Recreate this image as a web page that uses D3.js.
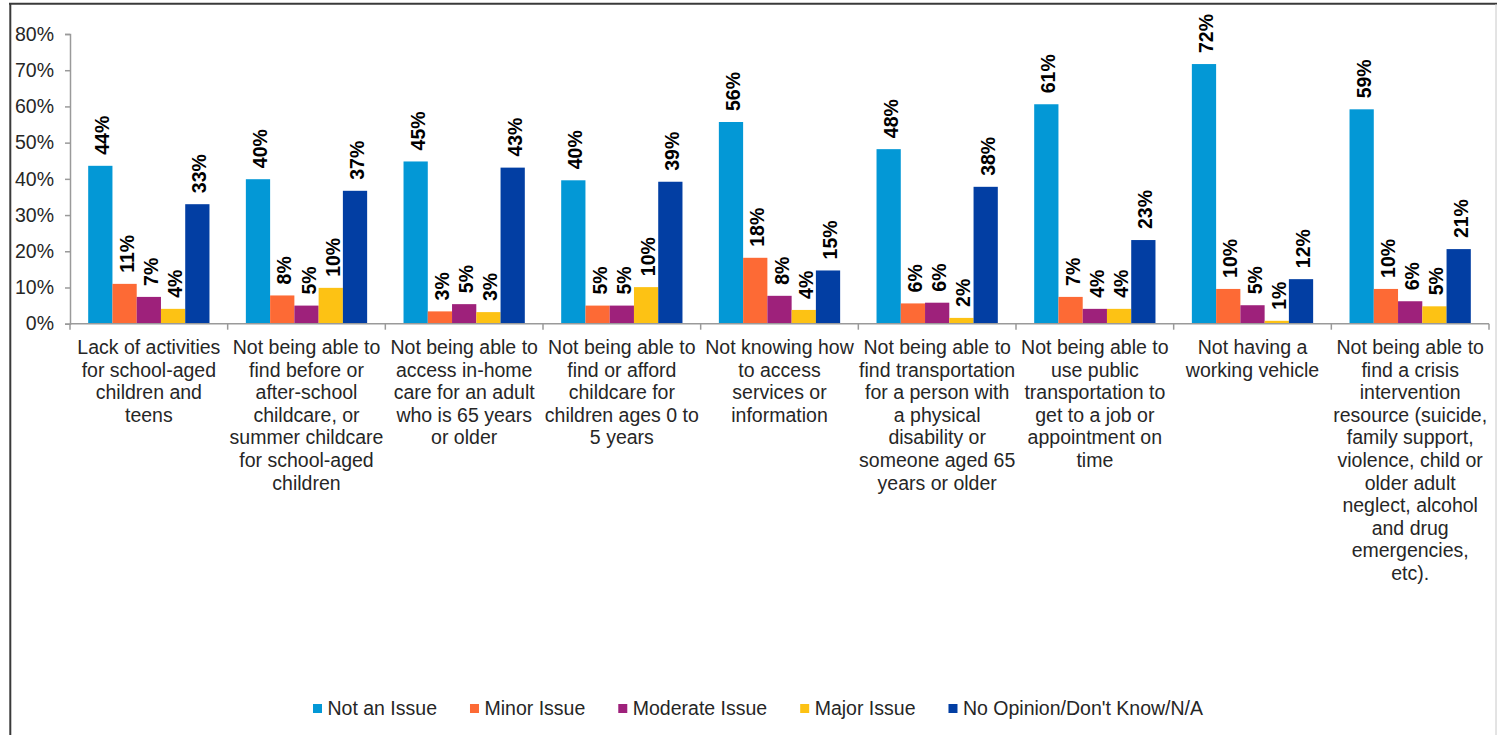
<!DOCTYPE html>
<html>
<head>
<meta charset="utf-8">
<script src="https://cdn.jsdelivr.net/npm/d3@7"></script>
<style>
  html, body { margin: 0; padding: 0; background: #fff; }
  svg { display: block; font-family: Arial, "Liberation Sans", sans-serif; }
</style>
</head>
<body>
<svg id="chart" width="1497" height="735"></svg>
<script>
// Survey categories (line breaks mark how each axis label wraps)
const categories = [
  "Lack of activities\nfor school-aged\nchildren and\nteens",
  "Not being able to\nfind before or\nafter-school\nchildcare, or\nsummer childcare\nfor school-aged\nchildren",
  "Not being able to\naccess in-home\ncare for an adult\nwho is 65 years\nor older",
  "Not being able to\nfind or afford\nchildcare for\nchildren ages 0 to\n5 years",
  "Not knowing how\nto access\nservices or\ninformation",
  "Not being able to\nfind transportation\nfor a person with\na physical\ndisability or\nsomeone aged 65\nyears or older",
  "Not being able to\nuse public\ntransportation to\nget to a job or\nappointment on\ntime",
  "Not having a\nworking vehicle",
  "Not being able to\nfind a crisis\nintervention\nresource (suicide,\nfamily support,\nviolence, child or\nolder adult\nneglect, alcohol\nand drug\nemergencies,\netc)."
];

const seriesNames = ["Not an Issue", "Minor Issue", "Moderate Issue", "Major Issue", "No Opinion/Don't Know/N/A"];
const seriesColors = ["#0398d6", "#fd6a35", "#9e217b", "#fdc214", "#023ea3"];

// Percent of respondents, one array per response
const notAnIssue = [43.6, 39.9, 44.8, 39.6, 55.7, 48.2, 60.6, 71.7, 59.2];
const minorIssue = [11.0, 7.8, 3.4, 5.0, 18.2, 5.6, 7.4, 9.6, 9.6];
const moderateIssue = [7.4, 5.0, 5.4, 5.0, 7.7, 5.8, 4.1, 5.1, 6.2];
const majorIssue = [4.1, 9.9, 3.2, 10.1, 3.8, 1.6, 4.1, 0.8, 4.8];
const noOpinion = [33.0, 36.7, 43.1, 39.2, 14.7, 37.8, 23.1, 12.3, 20.6];

const yTicks = [0, 10, 20, 30, 40, 50, 60, 70, 80];

const seriesValues = [notAnIssue, minorIssue, moderateIssue, majorIssue, noOpinion];

const svg = d3.select("#chart");

// Outer frame
svg.append("line").attr("x1", 9).attr("x2", 1497).attr("y1", 3.7).attr("y2", 3.7)
  .attr("stroke", "#3a3a3a").attr("stroke-width", 2);
svg.append("line").attr("x1", 10.3).attr("x2", 10.3).attr("y1", 3).attr("y2", 735)
  .attr("stroke", "#3a3a3a").attr("stroke-width", 2);
svg.append("line").attr("x1", 1496).attr("x2", 1496).attr("y1", 4).attr("y2", 735)
  .attr("stroke", "#c8c8c8").attr("stroke-width", 1);

const plot = { left: 70, right: 1489, top: 34, bottom: 323.7 };

const x = d3.scaleBand().domain(d3.range(categories.length))
  .range([plot.left, plot.right]).padding(0);
const xs = d3.scaleBand().domain(d3.range(seriesNames.length))
  .range([0, x.bandwidth()]).paddingInner(0).paddingOuter(0.75);
const y = d3.scaleLinear().domain([0, 80]).range([plot.bottom, plot.top]);

const fmt = v => d3.format(".0f")(v) + "%";

// Y axis
const yAxis = svg.append("g").attr("transform", `translate(${plot.left},0)`)
  .call(d3.axisLeft(y).tickValues(yTicks).tickFormat(d => d + "%").tickSize(5).tickPadding(11));
yAxis.select(".domain").attr("stroke", "#9a9a9a").attr("stroke-width", 1.5);
yAxis.selectAll(".tick line").attr("stroke", "#9a9a9a").attr("stroke-width", 1.5);
yAxis.selectAll(".tick text").attr("fill", "#262626")
  .style("font-size", "19.5px").style("font-family", "Arial, 'Liberation Sans', sans-serif");

// Bars
const groups = svg.append("g").selectAll("g")
  .data(categories.map((c, i) => i))
  .join("g")
  .attr("transform", i => `translate(${x(i)},0)`);

groups.selectAll("rect")
  .data(i => seriesValues.map((arr, s) => ({ s, v: arr[i] })))
  .join("rect")
  .attr("x", d => xs(d.s))
  .attr("width", xs.bandwidth())
  .attr("y", d => y(d.v))
  .attr("height", d => y(0) - y(d.v))
  .attr("fill", d => seriesColors[d.s]);

// Value labels, rotated above each bar
groups.selectAll("text.val")
  .data(i => seriesValues.map((arr, s) => ({ s, v: arr[i] })))
  .join("text")
  .attr("class", "val")
  .attr("transform", d => `translate(${xs(d.s) + xs.bandwidth() / 2 + 2},${y(d.v) - 11}) rotate(-90)`)
  .attr("dy", "0.36em")
  .attr("text-anchor", "start")
  .attr("fill", "#000")
  .style("font-weight", "bold")
  .style("font-size", "19.5px")
  .text(d => fmt(d.v));

// X axis line with ticks at category boundaries
const xAxisG = svg.append("g");
xAxisG.append("line")
  .attr("x1", plot.left).attr("x2", plot.right)
  .attr("y1", y(0)).attr("y2", y(0))
  .attr("stroke", "#9a9a9a").attr("stroke-width", 1.5);
const bounds = d3.range(categories.length).map(i => x(i)).concat([x.range()[1]]);
xAxisG.selectAll("line.tk").data(bounds).join("line")
  .attr("class", "tk")
  .attr("x1", d => d).attr("x2", d => d)
  .attr("y1", y(0)).attr("y2", y(0) + 6)
  .attr("stroke", "#9a9a9a").attr("stroke-width", 1.5);

// Category labels
const catText = svg.append("g").selectAll("text")
  .data(categories)
  .join("text")
  .attr("text-anchor", "middle")
  .attr("fill", "#262626")
  .style("font-size", "19.5px")
  .attr("transform", (d, i) => `translate(${x(i) + x.bandwidth() / 2},354)`);
catText.each(function (d) {
  const t = d3.select(this);
  d.split("\n").forEach((line, k) => {
    t.append("tspan").attr("x", 0).attr("y", k * 22.6).text(line);
  });
});

// Legend
const legend = svg.append("g");
const items = legend.selectAll("g").data(seriesNames).join("g");
items.append("rect")
  .attr("width", 9).attr("height", 9)
  .attr("y", 704)
  .attr("fill", (d, i) => seriesColors[i]);
items.append("text")
  .attr("x", 14.5)
  .attr("y", 715)
  .attr("fill", "#262626")
  .style("font-size", "19.5px")
  .text(d => d);
let cursor = 0;
const widths = [];
items.each(function () {
  const w = 14.5 + d3.select(this).select("text").node().getComputedTextLength();
  widths.push(w);
});
const gap = 33;
const total = d3.sum(widths) + gap * (widths.length - 1);
cursor = 758 - total / 2;
items.attr("transform", (d, i) => {
  const tx = cursor;
  cursor += widths[i] + gap;
  return `translate(${tx},0)`;
});
</script>
</body>
</html>
